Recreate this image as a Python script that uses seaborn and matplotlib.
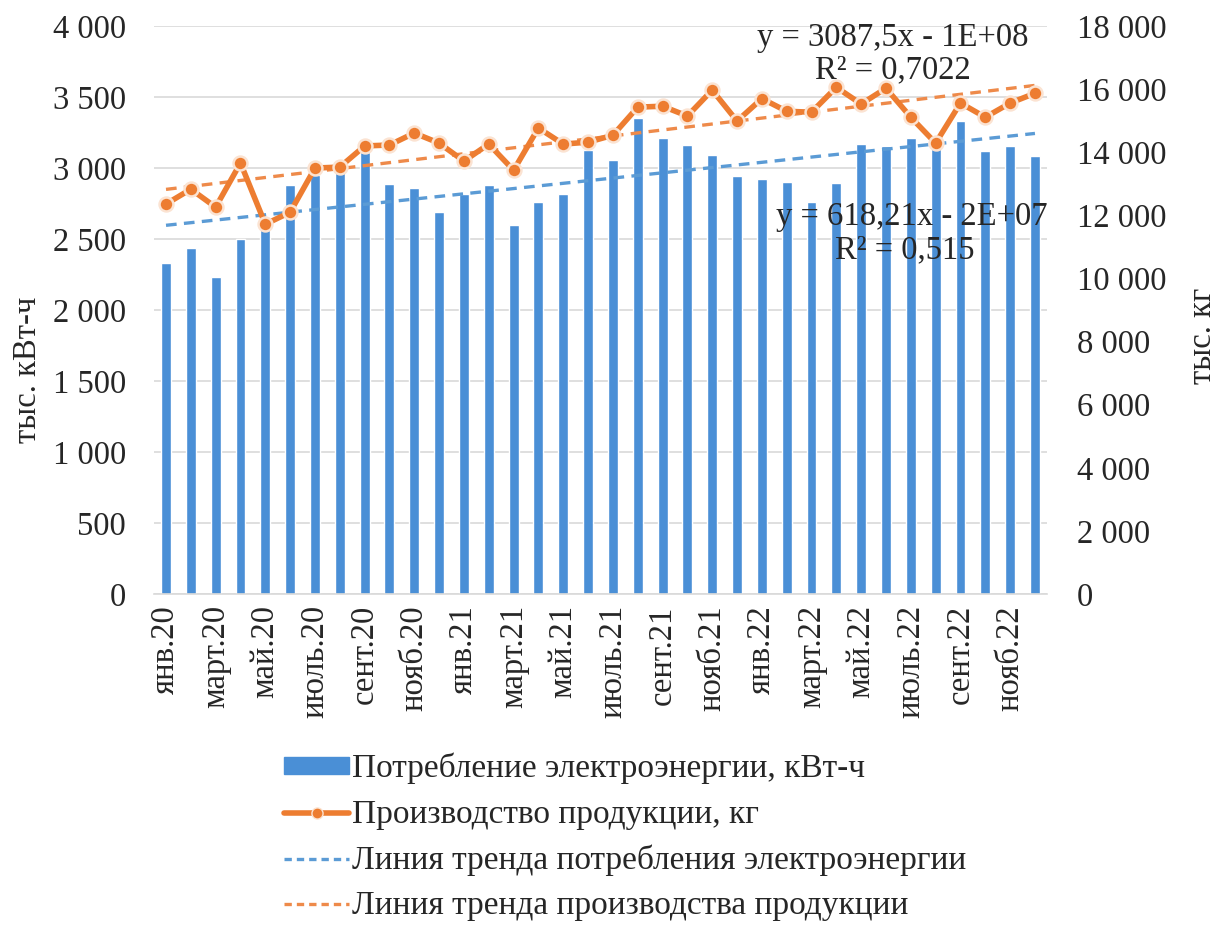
import numpy as np
import pandas as pd
import matplotlib
matplotlib.use("Agg")
import matplotlib.pyplot as plt
from matplotlib.lines import Line2D
from matplotlib.patches import Patch
import seaborn as sns

# Monthly data, Jan 2020 – Dec 2022
month_labels = [
    "янв.20", "фев.20", "март.20", "апр.20", "май.20", "июнь.20",
    "июль.20", "авг.20", "сент.20", "окт.20", "нояб.20", "дек.20",
    "янв.21", "фев.21", "март.21", "апр.21", "май.21", "июнь.21",
    "июль.21", "авг.21", "сент.21", "окт.21", "нояб.21", "дек.21",
    "янв.22", "фев.22", "март.22", "апр.22", "май.22", "июнь.22",
    "июль.22", "авг.22", "сент.22", "окт.22", "нояб.22", "дек.22",
]

# Electricity consumption, thousand kWh
electricity = [
    2330, 2440, 2230, 2500, 2570, 2880, 2950, 2970, 3110, 2890, 2860, 2690,
    2820, 2880, 2600, 2760, 2820, 3130, 3060, 3350, 3210, 3160, 3090, 2945,
    2925, 2900, 2760, 2895, 3170, 3155, 3210, 3180, 3330, 3120, 3155, 3085,
]

# Production output, thousand kg
production = [
    12360, 12830, 12260, 13660, 11720, 12100, 13500, 13530, 14200, 14230, 14610, 14290,
    13720, 14260, 13430, 14770, 14260, 14320, 14540, 15430, 15460, 15150, 15970, 14990,
    15700, 15300, 15270, 16060, 15530, 16030, 15110, 14290, 15560, 15110, 15560, 15870,
]

left_ticks = [0, 500, 1000, 1500, 2000, 2500, 3000, 3500, 4000]
right_ticks = [0, 2000, 4000, 6000, 8000, 10000, 12000, 14000, 16000, 18000]

legend_labels = [
    "Потребление электроэнергии, кВт-ч",
    "Производство продукции, кг",
    "Линия тренда потребления электроэнергии",
    "Линия тренда производства продукции",
]

eq_production = ["y = 3087,5x - 1E+08", "R² = 0,7022"]
eq_electricity = ["y = 618,21x - 2E+07", "R² = 0,515"]

BAR_BLUE = "#4a8fd6"
TREND_BLUE = "#5b9bd5"
ORANGE = "#ed7d31"
TREND_ORANGE = "#ee8a4a"

sns.set_theme(style="white")
plt.rcParams["font.family"] = ["Liberation Serif", "DejaVu Serif"]
FS = 23.5

df = pd.DataFrame({
    "idx": np.arange(len(month_labels)),
    "month": month_labels,
    "electricity": electricity,
    "production": production,
})

fig = plt.figure(figsize=(12.2, 9.34), dpi=100)
ax = fig.add_axes([0.1259, 0.364, 0.7326, 0.6081])

sns.barplot(data=df, x="idx", y="electricity", ax=ax, color=BAR_BLUE,
            width=0.4, saturation=1, native_scale=False, zorder=2)
sns.regplot(data=df, x="idx", y="electricity", ax=ax, scatter=False, ci=None,
            truncate=True,
            line_kws=dict(color=TREND_BLUE, lw=2.4, ls=(0, (3.2, 2.2)), zorder=3))

ax.set_ylim(0, 4000)
ax.set_yticks(left_ticks)
ax.set_yticklabels([f"{v:,}".replace(",", " ") for v in left_ticks], fontsize=FS)
ax.yaxis.grid(True, color="#d9d9d9", lw=1.2, zorder=0)
ax.set_axisbelow(True)
ax.set_xlim(-0.5, len(month_labels) - 0.5)
ax.set_xticks(df["idx"][::2])
ax.set_xticklabels(df["month"][::2], rotation=90, fontsize=FS, va="top", ha="center")
ax.tick_params(axis="both", length=0, pad=8)
ax.tick_params(axis="y", pad=20)
ax.set_xlabel("")
ax.set_ylabel("")
for side in ["left", "right", "top"]:
    ax.spines[side].set_visible(False)
ax.spines["bottom"].set_color("#d9d9d9")
ax.spines["bottom"].set_linewidth(1.2)

ax2 = ax.twinx()
sns.regplot(data=df, x="idx", y="production", ax=ax2, scatter=False, ci=None,
            truncate=True,
            line_kws=dict(color=TREND_ORANGE, lw=2.4, ls=(0, (3.2, 2.2)), zorder=3))
sns.lineplot(data=df, x="idx", y="production", ax=ax2, color=ORANGE, lw=4,
             marker="o", markersize=10, markerfacecolor=ORANGE,
             markeredgecolor="#fbe3d2", markeredgewidth=1.8, zorder=4)
ax2.set_ylim(0, 18000)
ax2.set_yticks(right_ticks)
ax2.set_yticklabels([f"{v:,}".replace(",", " ") for v in right_ticks], fontsize=FS)
ax2.tick_params(axis="y", length=0, pad=21)
ax2.set_xlim(-0.5, len(month_labels) - 0.5)
ax2.set_ylabel("")
ax2.set_xlabel("")
ax2.grid(False)
for side in ["left", "right", "top", "bottom"]:
    ax2.spines[side].set_visible(False)

# Axis titles
fig.text(28 / 1220, 1 - 370 / 934, "тыс. кВт-ч", fontsize=FS, rotation=90,
         ha="center", va="center")
fig.text(1203 / 1220, 1 - 336 / 934, "тыс. кг", fontsize=FS, rotation=90,
         ha="center", va="center")

# Trend equations
fig.text(893 / 1220, 1 - 38 / 934, eq_production[0], fontsize=FS, ha="center", va="center")
fig.text(893 / 1220, 1 - 70 / 934, eq_production[1], fontsize=FS, ha="center", va="center")
fig.text(912 / 1220, 1 - 217 / 934, eq_electricity[0], fontsize=FS, ha="center", va="center")
fig.text(905 / 1220, 1 - 250 / 934, eq_electricity[1], fontsize=FS, ha="center", va="center")

handles = [
    Patch(facecolor=BAR_BLUE, edgecolor=BAR_BLUE),
    Line2D([], [], color=ORANGE, lw=4, marker="o", markersize=8,
           markerfacecolor=ORANGE, markeredgecolor="#fbe3d2"),
    Line2D([], [], color=TREND_BLUE, lw=2.4, ls=(0, (2.2, 1.5))),
    Line2D([], [], color=TREND_ORANGE, lw=2.4, ls=(0, (2.2, 1.5))),
]
fig.legend(handles, legend_labels, loc="upper left",
           bbox_to_anchor=(284 / 1220, 1 - 753 / 934), frameon=False,
           fontsize=24, handlelength=1.95, handleheight=0.4, handletextpad=0.1,
           labelspacing=0.44, borderpad=0, borderaxespad=0)

fig.savefig("out.png", dpi=100)
